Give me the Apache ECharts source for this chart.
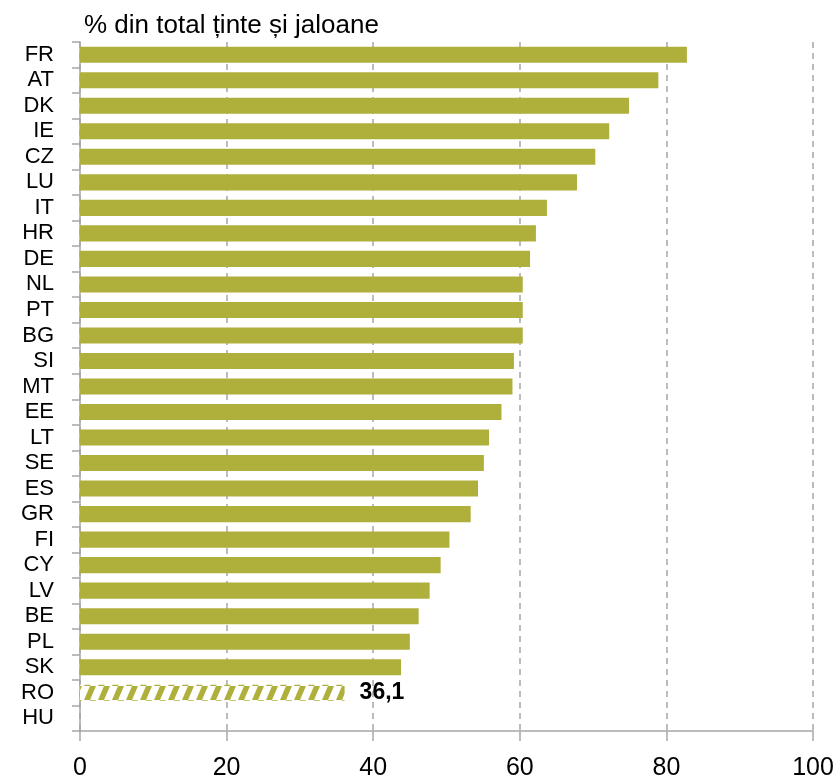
<!DOCTYPE html>
<html><head><meta charset="utf-8">
<script src="https://cdn.jsdelivr.net/npm/echarts@6/dist/echarts.min.js"></script>
<style>html,body{margin:0;padding:0;background:#fff}#c{width:837px;height:780px}</style>
</head><body><div id="c"></div>
<script>
const categories = ['FR','AT','DK','IE','CZ','LU','IT','HR','DE','NL','PT','BG','SI','MT','EE','LT','SE','ES','GR','FI','CY','LV','BE','PL','SK','RO','HU'];
const values = [82.8,78.9,74.9,72.2,70.3,67.8,63.7,62.2,61.4,60.4,60.4,60.4,59.2,59.0,57.5,55.8,55.1,54.3,53.3,50.4,49.2,47.7,46.2,45.0,43.8,36.1,null];
const hatchedCategory = 'RO';
const xTicks = [0,20,40,60,80,100];
const titleText = '% din total ținte și jaloane';

const olive = '#AFB03C';
const FONT = 'Liberation Sans';

// hatch pattern
const pc = document.createElement('canvas');
pc.width = 14; pc.height = 14;
const g = pc.getContext('2d');
g.fillStyle = '#fff'; g.fillRect(0,0,14,14);
g.fillStyle = olive;
function para(x0){ g.beginPath(); g.moveTo(x0,14); g.lineTo(x0+6,14); g.lineTo(x0+12,0); g.lineTo(x0+6,0); g.closePath(); g.fill(); }
para(-14); para(0); para(14);

const data = categories.map((c,i)=>{
  if (c === hatchedCategory) {
    return {value: values[i], itemStyle:{color:{image: pc, repeat:'repeat'}},
      label:{show:true, position:'right', formatter: p=>String(p.value).replace('.',','), fontWeight:'bold', fontSize:23, color:'#000', fontFamily:FONT, distance:15}};
  }
  return values[i];
});

const chart = echarts.init(document.getElementById('c'), null, {renderer:'canvas'});
chart.setOption({
  animation:false,
  title:{text:titleText, left:79, top:8, textStyle:{fontFamily:FONT, fontSize:26, fontWeight:'normal', color:'#000'}},
  grid:{left:80, right:24, top:42, bottom:49, containLabel:false, outerBoundsMode:'none'},
  xAxis:{type:'value', min:0, max:100, interval:20,
    axisLine:{show:true, lineStyle:{color:'#a6a6a6', width:1.5}},
    axisTick:{show:true, length:10, lineStyle:{color:'#a6a6a6', width:1.5}},
    axisLabel:{fontFamily:FONT, fontSize:25, color:'#000', margin:25, formatter:v=>xTicks.includes(v)?String(v):''},
    splitLine:{show:true, lineStyle:{color:'#a6a6a6', type:[6,5], width:1.5}}
  },
  yAxis:{type:'category', data:categories, inverse:true,
    axisLine:{show:true, lineStyle:{color:'#a6a6a6', width:1.5}},
    axisTick:{show:true, length:8, lineStyle:{color:'#a6a6a6', width:1.5}},
    axisLabel:{fontFamily:FONT, fontSize:22, color:'#000', margin:26, interval:0}
  },
  series:[{type:'bar', data:data, barCategoryGap:'37%', itemStyle:{color:olive}}]
});
</script></body></html>
